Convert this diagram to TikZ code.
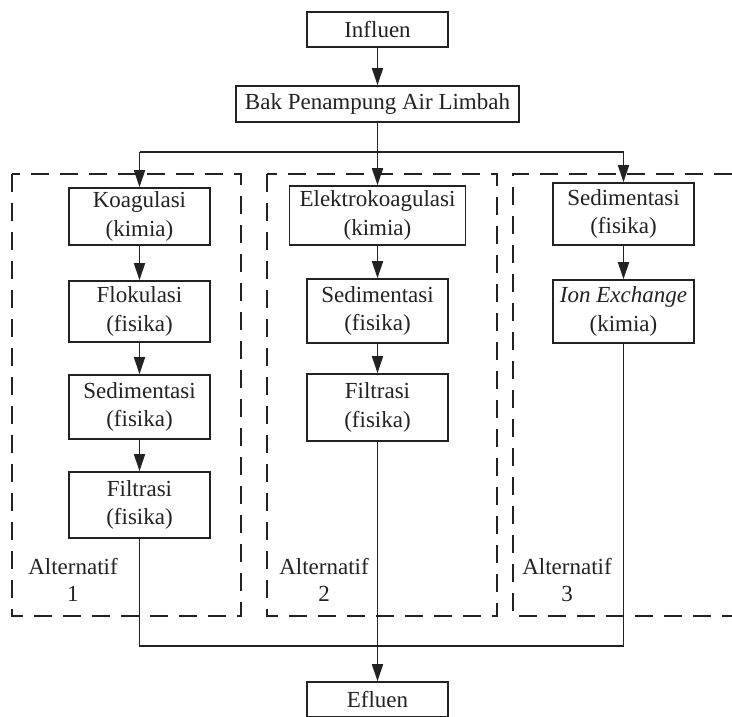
\documentclass[tikz,border=0pt]{standalone}
\usepackage{fontspec}
\setmainfont{Liberation Serif}
\usetikzlibrary{arrows.meta}
\definecolor{ink}{HTML}{222222}
\begin{document}
\begin{tikzpicture}[x=1pt,y=-1pt,
  box/.style={draw=ink,line width=1.6pt,rectangle,inner sep=0pt,align=center,
    text=ink,font=\fontsize{23}{28.5}\selectfont,minimum width=141pt},
  lbl/.style={inner sep=0pt,align=center,text=ink,font=\fontsize{23}{27}\selectfont},
  conn/.style={draw=ink,line width=1.5pt},
  arr/.style={conn,-{Triangle[length=17pt,width=11pt]}},
  altbox/.style={draw=ink,line width=1.5pt,dash pattern=on 18pt off 11pt}]
\useasboundingbox[fill=white] (0,0) rectangle (732,716);

% dashed alternative frames
\draw[altbox] (12,174) rectangle (241,616);
\draw[altbox] (267,174) rectangle (497,616);
\draw[altbox] (732,174) -- (513,174) -- (513,616) -- (732,616);

% main nodes
\node[box,minimum height=35pt] (influen) at (377.5,29.5) {Influen};
\node[box,minimum width=283pt,minimum height=36pt] (bak) at (377.5,104) {Bak Penampung Air Limbah};

% alternative 1
\node[box,minimum height=57pt] (koag) at (139.5,216.5) {Koagulasi\\(kimia)};
\node[box,minimum height=61pt] (flok) at (139.5,311.5) {Flokulasi\\(fisika)};
\node[box,minimum height=64pt] (sed1) at (139.5,407) {Sedimentasi\\(fisika)};
\node[box,minimum height=66pt] (filt1) at (139.5,505) {Filtrasi\\(fisika)};

% alternative 2
\node[box,minimum width=176pt,minimum height=59pt] (elek) at (377.5,215.5) {Elektrokoagulasi\\(kimia)};
\node[box,minimum height=64pt] (sed2) at (377.5,311) {Sedimentasi\\(fisika)};
\node[box,minimum height=67pt] (filt2) at (377.5,407.5) {Filtrasi\\(fisika)};

% alternative 3
\node[box,minimum height=62pt] (sed3) at (623.5,214) {Sedimentasi\\(fisika)};
\node[box,minimum height=63pt] (ion) at (623.5,311.5) {\textit{Ion Exchange}\\(kimia)};

% output
\node[box,minimum height=35pt] (efluen) at (377.5,699.5) {Efluen};

% labels
\node[lbl] (lab1) at (73,580) {Alternatif\\1};
\node[lbl] (lab2) at (324,580) {Alternatif\\2};
\node[lbl] (lab3) at (567,580) {Alternatif\\3};

% junction points
\coordinate (tl) at (139.5,152);
\coordinate (tr) at (623.5,152);
\coordinate (bl) at (139.5,646);
\coordinate (br) at (623.5,646);

% connectors
\draw[arr] (influen) -- (bak);
\draw[arr] (bak) -- (elek);
\draw[conn] (tl) -- (tr);
\draw[arr] (tl) -- (koag);
\draw[arr] (tr) -- (sed3);
\draw[arr] (koag) -- (flok);
\draw[arr] (flok) -- (sed1);
\draw[arr] (sed1) -- (filt1);
\draw[arr] (elek) -- (sed2);
\draw[arr] (sed2) -- (filt2);
\draw[arr] (sed3) -- (ion);
\draw[conn] (filt1.south) -- (bl) -- (br) -- (ion.south);
\draw[arr] (filt2) -- (efluen);
\end{tikzpicture}
\end{document}
